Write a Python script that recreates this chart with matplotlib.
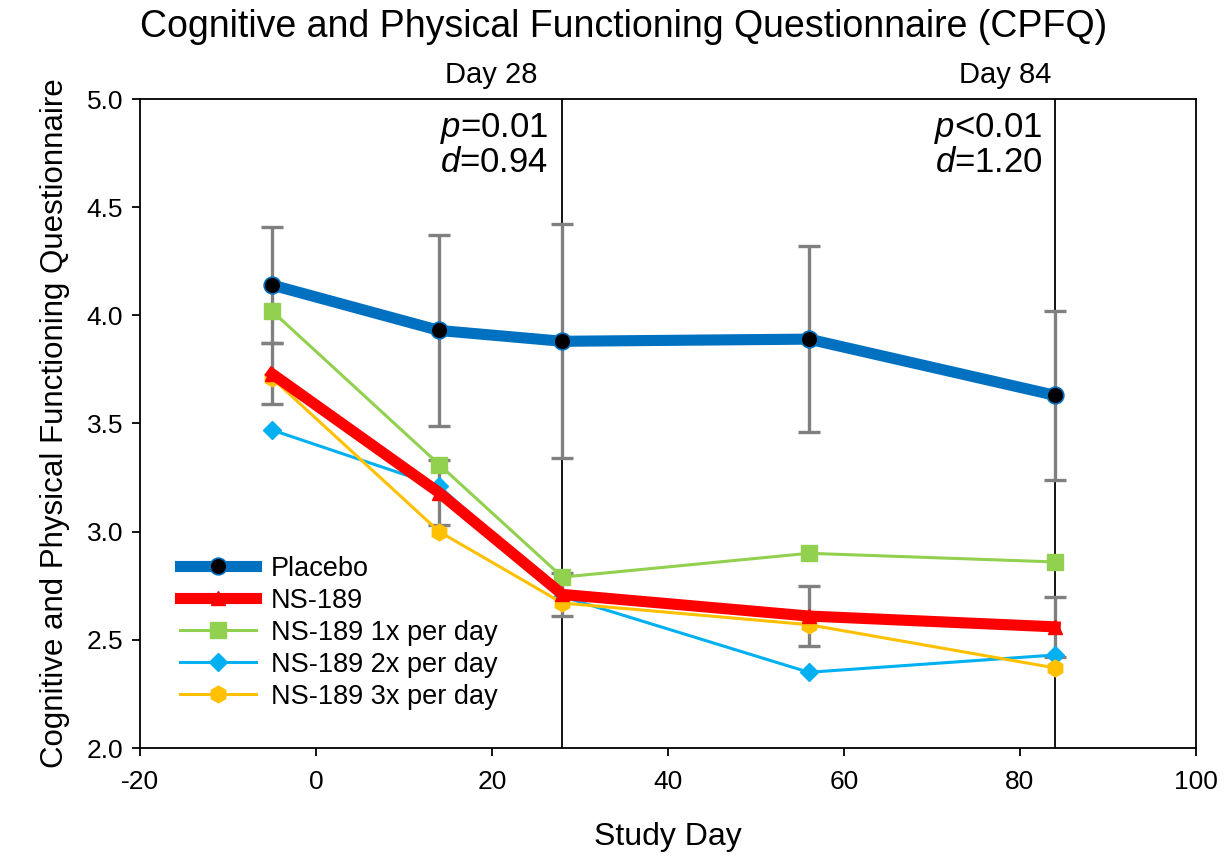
import numpy as np
import matplotlib
matplotlib.use('Agg')
import matplotlib.pyplot as plt

plt.rcParams['font.family'] = ['Liberation Sans', 'DejaVu Sans']
plt.rcParams['mathtext.fontset'] = 'custom'
plt.rcParams['mathtext.it'] = 'Liberation Sans:italic'
plt.rcParams['mathtext.rm'] = 'Liberation Sans'
plt.rcParams['axes.unicode_minus'] = False

# data
days = [-5, 14, 28, 56, 84]
placebo = [4.14, 3.93, 3.88, 3.89, 3.63]
placebo_err = [0.27, 0.44, 0.54, 0.43, 0.39]
ns189 = [3.73, 3.18, 2.71, 2.61, 2.56]
ns189_err = [0.14, 0.15, 0.10, 0.14, 0.14]
ns189_1x = [4.02, 3.31, 2.79, 2.90, 2.86]
ns189_2x = [3.47, 3.21, 2.70, 2.35, 2.43]
ns189_3x = [3.71, 3.00, 2.67, 2.57, 2.37]

marker_days = [28, 84]
day_labels = ['Day 28', 'Day 84']
stats = ['$p$=0.01\n$d$=0.94', '$p$<0.01\n$d$=1.20']

fig = plt.figure(figsize=(12.26, 8.57), dpi=100)
ax = fig.add_axes([140/1226, 1 - 748/857, 1056/1226, 649/857])

# vertical markers
for d in marker_days:
    ax.axvline(d, color='black', lw=1.3, zorder=1)

# error bars (gray, behind the lines)
ax.errorbar(days, placebo, yerr=placebo_err, fmt='none', ecolor='#808080',
            elinewidth=2.4, capsize=8, capthick=2.4, zorder=2)
ax.errorbar(days, ns189, yerr=ns189_err, fmt='none', ecolor='#808080',
            elinewidth=2.4, capsize=8, capthick=2.4, zorder=2)

ax.plot(days, placebo, color='#0070C0', lw=8, marker='o', ms=12,
        mfc='black', mec='#0070C0', mew=1.2, label='Placebo', zorder=6)
ax.plot(days, ns189, color='#FF0000', lw=8, marker='^', ms=10,
        mfc='#FF0000', mec='#FF0000', label='NS-189', zorder=5)
ax.plot(days, ns189_1x, color='#92D050', lw=2.2, marker='s', ms=11,
        label='NS-189 1x per day', zorder=4)
ax.plot(days, ns189_2x, color='#00B0F0', lw=2.2, marker='D', ms=9,
        label='NS-189 2x per day', zorder=4)
ax.plot(days, ns189_3x, color='#FFC000', lw=2.2, marker='h', ms=12,
        label='NS-189 3x per day', zorder=4)

ax.set_xlim(-20, 100)
ax.set_ylim(2.0, 5.0)
ax.set_xticks(np.arange(-20, 101, 20))
ax.set_yticks(np.arange(2.0, 5.01, 0.5))
ax.set_yticklabels(['%.1f' % v for v in np.arange(2.0, 5.01, 0.5)])
ax.tick_params(direction='out', length=6, width=1.3, labelsize=19)
ax.tick_params(axis='x', pad=10)
ax.tick_params(axis='y', pad=6)
for s in ax.spines.values():
    s.set_linewidth(1.3)

ax.set_xlabel('Study Day', fontsize=23, labelpad=20)
ax.set_ylabel('Cognitive and Physical Functioning Questionnaire',
              fontsize=22.5, labelpad=12)
fig.suptitle('Cognitive and Physical Functioning Questionnaire (CPFQ)',
             fontsize=27, x=0.509, y=0.99)

for lab, xf in zip(day_labels, [0.333, 0.819]):
    ax.text(xf, 1.037, lab, transform=ax.transAxes, ha='center', va='center',
            fontsize=21)
for txt, xf in zip(stats, [0.387, 0.855]):
    ax.text(xf, 0.982, txt, transform=ax.transAxes, ha='right', va='top',
            fontsize=25, linespacing=1.0)

ax.legend(loc='lower left', bbox_to_anchor=(0.02, 0.03), frameon=False,
          fontsize=19.5, handlelength=2.8, labelspacing=0.22, borderpad=0.2,
          handletextpad=0.55)

fig.savefig('out.png', dpi=100)
